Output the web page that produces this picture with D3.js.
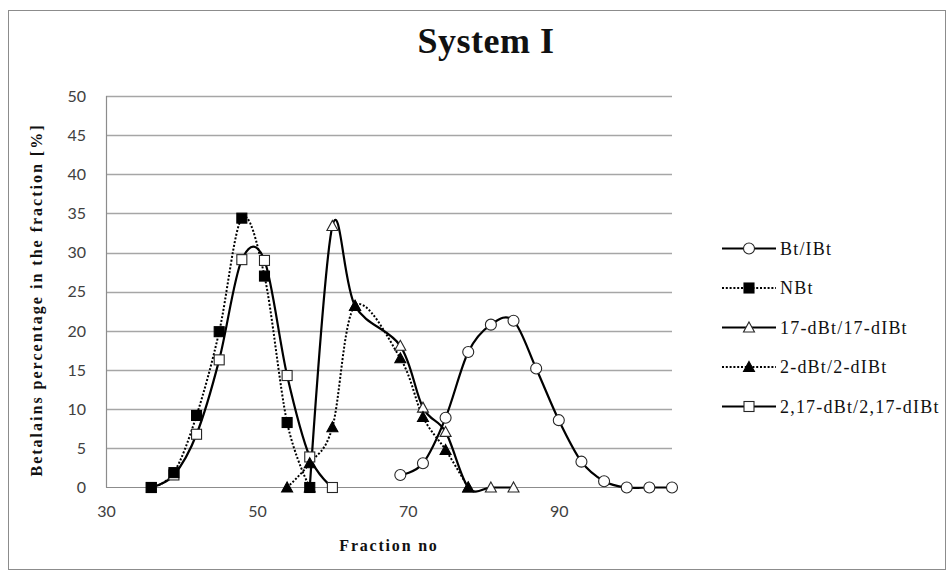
<!DOCTYPE html>
<html>
<head>
<meta charset="utf-8">
<script src="https://cdn.jsdelivr.net/npm/d3@7/dist/d3.min.js"></script>
<style>
  html, body { margin: 0; padding: 0; background: #fff; }
  svg { display: block; }
</style>
</head>
<body>
<script>
// ---- data ----
const seriesNames = ["Bt/IBt", "NBt", "17-dBt/17-dIBt", "2-dBt/2-dIBt", "2,17-dBt/2,17-dIBt"];

const btX   = [69, 72, 75, 78, 81, 84, 87, 90, 93, 96, 99, 102, 105];
const btY   = [1.6, 3.1, 8.9, 17.3, 20.8, 21.3, 15.2, 8.6, 3.3, 0.8, 0, 0, 0];

const nbtX  = [36, 39, 42, 45, 48, 51, 54, 57];
const nbtY  = [0, 1.9, 9.2, 19.9, 34.4, 27.0, 8.3, 0];

const d17X  = [57, 60, 63, 69, 72, 75, 78, 81, 84];
const d17Y  = [0, 33.4, 23.2, 18.1, 10.2, 7.1, 0, 0, 0];

const d2X   = [54, 57, 60, 63, 69, 72, 75, 78];
const d2Y   = [0, 3.1, 7.7, 23.2, 16.5, 9.0, 4.8, 0];

const d217X = [36, 39, 42, 45, 48, 51, 54, 57, 60];
const d217Y = [0, 1.6, 6.8, 16.3, 29.1, 29.0, 14.3, 3.9, 0];

const xTicks = [30, 50, 70, 90];
const yTicks = [0, 5, 10, 15, 20, 25, 30, 35, 40, 45, 50];

const titleText = "System I";
const xTitle = "Fraction no";
const yTitle = "Betalains percentage in the fraction [%]";

// ---- layout ----
const W = 949, H = 574;
const plot = { left: 106, right: 672, top: 96, bottom: 487.5 };

const svg = d3.select("body").append("svg").attr("width", W).attr("height", H);

// chart border
svg.append("rect").attr("x", 8.5).attr("y", 10.5).attr("width", 937).attr("height", 559)
  .attr("fill", "none").attr("stroke", "#8c8c8c").attr("stroke-width", 1);

const x = d3.scaleLinear().domain([30, 105]).range([plot.left, plot.right]);
const y = d3.scaleLinear().domain([0, 50]).range([plot.bottom, plot.top]);

// gridlines
svg.append("g").selectAll("line").data(yTicks.filter(d => d > 0)).join("line")
  .attr("x1", plot.left).attr("x2", plot.right)
  .attr("y1", d => Math.round(y(d)) + 0.5).attr("y2", d => Math.round(y(d)) + 0.5)
  .attr("stroke", "#a6a6a6").attr("stroke-width", 1.3);

// axis lines
svg.append("line").attr("x1", plot.left + 0.5).attr("x2", plot.left + 0.5)
  .attr("y1", plot.top).attr("y2", plot.bottom).attr("stroke", "#8c8c8c").attr("stroke-width", 1.2);
svg.append("line").attr("x1", plot.left).attr("x2", plot.right)
  .attr("y1", plot.bottom).attr("y2", plot.bottom).attr("stroke", "#8c8c8c").attr("stroke-width", 1.2);

// axes (labels)
const yAxis = svg.append("g").attr("transform", `translate(${plot.left},0)`)
  .call(d3.axisLeft(y).tickValues(yTicks).tickSize(0).tickPadding(20).tickFormat(d3.format("d")));
const xAxis = svg.append("g").attr("transform", `translate(0,${plot.bottom})`)
  .call(d3.axisBottom(x).tickValues(xTicks).tickSize(0).tickPadding(18).tickFormat(d3.format("d")));
[yAxis, xAxis].forEach(g => {
  g.select(".domain").remove();
  g.selectAll("text").attr("font-family", "Lato, 'Open Sans', sans-serif")
    .attr("font-size", 16).attr("fill", "#404040");
});

// titles
svg.append("text").attr("x", 486).attr("y", 53).attr("text-anchor", "middle")
  .attr("font-family", "'Liberation Serif', serif").attr("font-weight", "bold")
  .attr("font-size", 36).attr("letter-spacing", 0.5).attr("fill", "#111").text(titleText);

svg.append("text").attr("x", 389).attr("y", 551).attr("text-anchor", "middle")
  .attr("font-family", "'Liberation Serif', serif").attr("font-weight", "bold")
  .attr("font-size", 16).attr("letter-spacing", 1.8).attr("fill", "#111").text(xTitle);

svg.append("text").attr("transform", "translate(42,300) rotate(-90)").attr("text-anchor", "middle")
  .attr("font-family", "'Liberation Serif', serif").attr("font-weight", "bold")
  .attr("font-size", 16).attr("letter-spacing", 2).attr("fill", "#111").text(yTitle);

// series definitions
const zip = (xs, ys) => xs.map((v, i) => ({ x: v, y: ys[i] }));
const series = [
  { name: seriesNames[4], pts: zip(d217X, d217Y), dashed: false, marker: "square", filled: false },
  { name: seriesNames[2], pts: zip(d17X, d17Y),   dashed: false, marker: "triangle", filled: false },
  { name: seriesNames[0], pts: zip(btX, btY),     dashed: false, marker: "circle", filled: false },
  { name: seriesNames[3], pts: zip(d2X, d2Y),     dashed: true,  marker: "triangle", filled: true },
  { name: seriesNames[1], pts: zip(nbtX, nbtY),   dashed: true,  marker: "square", filled: true }
];

const line = d3.line().x(d => x(d.x)).y(d => y(d.y)).curve(d3.curveCardinal.tension(0));

function styleLine(sel, s) {
  sel.attr("fill", "none").attr("stroke", "#000").attr("stroke-width", s.dashed ? 2 : 2.2)
    .attr("stroke-dasharray", s.dashed ? "2,1.8" : null);
}

function drawMarker(g, s, cx, cy) {
  const fill = s.filled ? "#000" : "#fff";
  const stroke = s.filled ? "#000" : "#262626";
  if (s.marker === "circle") {
    g.append("circle").attr("cx", cx).attr("cy", cy).attr("r", 5.5)
      .attr("fill", fill).attr("stroke", stroke).attr("stroke-width", 1.1);
  } else if (s.marker === "square") {
    g.append("rect").attr("x", cx - 5).attr("y", cy - 5).attr("width", 10).attr("height", 10)
      .attr("fill", fill).attr("stroke", stroke).attr("stroke-width", 1.1);
  } else {
    g.append("path").attr("transform", `translate(${cx},${cy})`)
      .attr("d", "M0,-5.5L5.5,4.5L-5.5,4.5Z")
      .attr("fill", fill).attr("stroke", stroke).attr("stroke-width", 1.1);
  }
}

const linesG = svg.append("g");
const markG = svg.append("g");
series.forEach(s => {
  linesG.append("path").datum(s.pts).attr("d", line).call(sel => styleLine(sel, s));
});
series.forEach(s => {
  const g = markG.append("g");
  s.pts.forEach(p => drawMarker(g, s, x(p.x), y(p.y)));
});

// legend (in original order)
const legY0 = 248.5, legStep = 39.5;
seriesNames.forEach((name, i) => {
  const s = series.find(d => d.name === name);
  const ly = legY0 + i * legStep;
  const g = svg.append("g");
  g.append("line").attr("x1", 722).attr("x2", 776).attr("y1", ly).attr("y2", ly)
    .call(sel => styleLine(sel, s));
  drawMarker(g, s, 749, ly);
  g.append("text").attr("x", 780).attr("y", ly + 6)
    .attr("font-family", "'Liberation Serif', serif").attr("font-size", 18)
    .attr("letter-spacing", 1.2).attr("fill", "#111").text(name);
});
</script>
</body>
</html>
